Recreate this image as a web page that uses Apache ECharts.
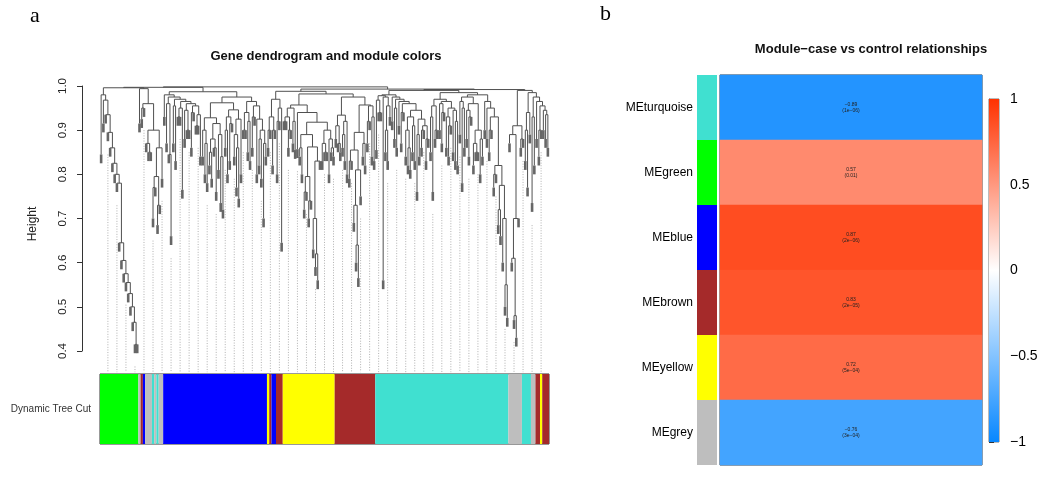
<!DOCTYPE html>
<html><head><meta charset="utf-8">
<script src="https://cdn.jsdelivr.net/npm/echarts/dist/echarts.min.js"></script>
<style>html,body{margin:0;padding:0;background:#fff}#c{width:1049px;height:480px}</style>
</head><body><div id="c"></div>
<script>
// ---------- Panel a: dendrogram (merge heights) ----------
// Notation: (h childA childB) = merge at height h; number = collapsed leaf tip height; * = leaf hanging right under its merge
const treeA = "(0.98 0.845 (0.968 0.915 (0.935 * (0.895 * (0.86 * (0.825 * (0.80 * (0.78 * (0.645 * (0.605 * (0.575 * (0.555 * (0.53 * (0.50 * (0.465 * (0.415 * *))))))))))))))))";
const treeB = "(0.994 0.915 (0.96 (0.95 0.925 *) (0.90 (0.87 * (0.85 * *)) (0.86 (0.795 (0.77 0.70 *) (0.73 0.685 *)) 0.79))))";
const treeC_S1 = "(0.96 0.87 (0.845 * 0.66))";
const treeC_S2 = "(0.955 0.87 0.83)";
const treeC_S3 = "(0.95 (0.93 * *) 0.765)";
const treeC_S4 = "(0.945 0.88 (0.9 * *))";
const treeC_S5 = "(0.94 0.86 *)";
const treeC_S6 = "(0.935 (0.91 * *) 0.84)";
const treeC_big = "(0.962 (0.928 (0.90 0.84 (0.87 0.80 0.78)) (0.915 (0.88 (0.85 0.82 0.79) (0.86 * 0.76)) (0.89 0.81 (0.84 0.735 0.72)))) (0.946 (0.93 (0.90 0.86 0.80) (0.915 0.83 *)) (0.925 (0.89 0.84 (0.86 0.77 0.745)) 0.80)))";
const treeC_right = "(0.965 (0.94 (0.9 * *) (0.92 0.85 0.83)) (0.955 (0.93 0.86 *) (0.925 0.80 (0.9 (0.88 0.82 0.79) (0.87 0.70 0.84)))))";
const treeM = "(0.97 (0.93 (0.9 0.86 *) (0.9 0.82 *)) (0.95 (0.92 0.80 *) 0.645))";
const treeY1 = "(0.95 (0.93 (0.92 * *) (0.9 0.86 *)) (0.92 0.87 0.855))";
const treeY4 = "(0.89 (0.86 0.84 0.80) (0.862 (0.795 (0.76 0.72 *) (0.74 0.70 *)) (0.83 (0.70 0.63 (0.62 0.59 0.56)) *)))";
const treeY5 = "(0.90 (0.87 0.83 (0.85 * *)) (0.88 0.80 (0.86 0.85 0.84)))";
const treeBr1 = "(0.934 (0.91 0.88 (0.87 * 0.85)) (0.92 (0.89 0.86 0.83) 0.80))";
const treeBr3 = "(0.895 (0.855 (0.83 0.79 *) (0.81 (0.73 0.69 (0.64 0.60 0.565)) 0.75)) (0.87 0.84 0.82))";
const treeBr4 = "(0.955 (0.92 0.87 *) (0.93 0.84 0.83))";
const treeTL1 = "(0.978 (0.968 0.855 (0.94 * *)) (0.975 0.56 (0.955 (0.9 0.85 0.83) 0.93)))";
const treeTL3 = "(0.93 (0.90 0.84 (0.86 0.82 0.81)) (0.91 0.85 0.83))";
const treeTL4 = "(0.925 (0.89 0.76 0.84) (0.91 (0.9 0.86 *) (0.88 0.83 *)))";
const treeTR1 = "(0.97 (0.955 (0.93 0.85 0.76) (0.9 0.88 *)) (0.965 (0.96 0.90 (0.94 0.87 *)) (0.95 (0.93 0.86 (0.91 0.84 *)) (0.945 0.85 (0.92 0.83 0.82)))))";
const treeTR3 = "(0.975 (0.965 0.89 (0.95 0.78 0.86)) (0.96 (0.945 0.88 (0.93 0.84 *)) (0.9 (0.87 0.82 (0.85 * *)) (0.88 0.80 0.84))))";
const treeTR4 = "(0.965 0.9 (0.95 0.88 (0.93 (0.9 0.85 *) (0.82 (0.8 0.77 *) (0.775 (0.72 0.685 0.66) (0.70 0.6 (0.55 0.5 0.475)))))))";
const treeR1 = "(0.91 (0.89 0.87 (0.7 (0.61 0.6 (0.48 0.47 0.43)) *)) (0.88 0.86 *))";
const treeR2 = "(0.985 (0.94 (0.9 0.83 0.77) 0.89) (0.975 (0.93 0.735 0.82) (0.965 0.88 (0.955 (0.9 0.84 *) (0.945 0.90 (0.935 0.88 0.86))))))";

// module colour of each leaf, in dendrogram order (runs)
const moduleRuns = [['green',17],['grey',1],['brown',1],['blue',1],['grey',3],['turquoise',1],['grey',1],['turquoise',1],['grey',2],
  ['blue',46],['yellow',1],['brown',1],['blue',2],['brown',3],['yellow',23],['brown',18],['turquoise',59],
  ['grey',6],['turquoise',4],['grey',2],['brown',2],['yellow',1],['brown',3]];
const heightTicks = [0.4, 0.5, 0.6, 0.7, 0.8, 0.9, 1.0];

// ---------- Panel b: module-trait heatmap ----------
const modules = ['MEturquoise','MEgreen','MEblue','MEbrown','MEyellow','MEgrey'];
const moduleColorNames = ['turquoise','green','blue','brown','yellow','grey'];
const corValues = [-0.89, 0.57, 0.87, 0.83, 0.72, -0.76];
const pValues = ['1e-06','0.01','2e-06','2e-05','5e-04','3e-04'];
const colorbarTicks = [-1, -0.5, 0, 0.5, 1];

const rColors = {green:'#00FF00', blue:'#0000FF', brown:'#A52A2A', yellow:'#FFFF00', turquoise:'#40E0D0', grey:'#BEBEBE'};
const cbPalette = ['#0887FF', '#FFFFFF', '#FF3200'];
const FONT = 'Liberation Sans, Arial, sans-serif';

const treeC = `(0.987 (0.98 0.93 (0.975 ${treeC_S1} (0.97 ${treeC_S2} (0.965 ${treeC_S3} (0.96 ${treeC_S4} (0.955 ${treeC_S5} ${treeC_S6})))))) (0.975 ${treeC_big} ${treeC_right}))`;
const treeY = `(0.957 ${treeY1} (0.94 0.857 (0.918 ${treeY4} ${treeY5})))`;
const treeBr = `(0.975 ${treeBr1} (0.957 ${treeBr3} ${treeBr4}))`;
const treeT = `(0.99 (0.98 ${treeTL1} (0.975 0.92 (0.97 (0.95 0.88 0.86) (0.965 0.91 (0.96 (0.94 0.87 *) (0.945 ${treeTL3} ${treeTL4})))))) (0.985 ${treeTR1} (0.98 ${treeTR3} ${treeTR4})))`;
const treeR = `(0.99 ${treeR1} ${treeR2})`;
const treeAll = `(0.998 (0.997 (0.996 ${treeA} ${treeB}) ${treeC}) (0.993 (0.988 ${treeM} (0.982 ${treeY} ${treeBr})) (0.992 ${treeT} ${treeR})))`;

function parseTree(s){
  const tok = s.replace(/\(/g,' ( ').replace(/\)/g,' ) ').trim().split(/\s+/);
  let i = 0;
  function node(){
    const t = tok[i++];
    if (t === '('){ const h = parseFloat(tok[i++]); const ch = []; while (tok[i] !== ')') ch.push(node()); i++; return {h, ch}; }
    return {leaf:true, tip: t === '*' ? null : parseFloat(t)};
  }
  return node();
}
const hang = 0.02;
const segs = []; const leafBottom = []; let nLeaf = 0;
function lay(n, parentH){
  if (n.leaf){
    const x = ++nLeaf; const tip = n.tip == null ? parentH : n.tip;
    if (tip < parentH) segs.push([x, parentH, x, tip, 0]);
    segs.push([x, tip, x, tip - hang, 1]);
    leafBottom[x] = tip - hang;
    return x;
  }
  const xs = n.ch.map(c => lay(c, n.h));
  const x = (xs[0] + xs[xs.length-1]) / 2;
  segs.push([xs[0], n.h, xs[xs.length-1], n.h, 0]);
  if (parentH != null) segs.push([x, parentH, x, n.h, 0]);
  return x;
}
lay(parseTree(treeAll), null);
const guides = [];
for (let i = 4; i <= nLeaf; i += 4) guides.push([i, leafBottom[i] - 0.03, i, 0.352, 2]);
segs.sort((a,b) => a[4] - b[4]);

let acc = 0; const barData = moduleRuns.map(r => { const d = [acc, acc + r[1], r[0]]; acc += r[1]; return d; });

function segRender(params, api){
  const p1 = api.coord([api.value(0), api.value(1)]), p2 = api.coord([api.value(2), api.value(3)]);
  const k = api.value(4);
  const style = k === 2 ? {stroke:'#b0b0b0', lineWidth:1, lineDash:[1,1.6]} :
               k === 1 ? {stroke:'#666', lineWidth:2.6} : {stroke:'#505050', lineWidth:1};
  return {type:'line', shape:{x1:p1[0], y1:p1[1], x2:p2[0], y2:p2[1]}, style};
}

const chart = echarts.init(document.getElementById('c'), null, {renderer:'canvas'});
chart.setOption({
  animation:false,
  grid:[
    {left:100, top:86, width:449, height:265},
    {left:100, top:374, width:449, height:70, show:true, borderColor:'#333', borderWidth:1},
    {left:697, top:75, width:20, height:390},
    {left:720, top:75, width:262, height:390, show:true, borderColor:'#3a3a3a', borderWidth:1},
    {left:989, top:99, width:10, height:343, show:true, borderColor:'#777', borderWidth:1}
  ],
  xAxis:[
    {gridIndex:0, type:'value', min:0.5, max:nLeaf+0.5, show:false},
    {gridIndex:1, type:'value', min:0, max:acc, show:false},
    {gridIndex:2, type:'category', data:[''], show:false},
    {gridIndex:3, type:'category', data:[''], show:false},
    {gridIndex:4, type:'value', min:0, max:1, show:false}
  ],
  yAxis:[
    {gridIndex:0, type:'value', min:0.4, max:1.0, interval:0.1, offset:18,
      axisLine:{show:true, lineStyle:{color:'#333'}}, axisTick:{show:true, length:5, lineStyle:{color:'#333'}},
      splitLine:{show:false},
      axisLabel:{rotate:90, fontSize:11.5, color:'#222', fontFamily:FONT, margin:13, formatter:v => heightTicks.includes(+v.toFixed(1)) ? v.toFixed(1) : ''}},
    {gridIndex:1, type:'value', min:0, max:1, show:false},
    {gridIndex:2, type:'category', data:modules, inverse:true, axisLine:{show:false}, axisTick:{show:false},
      axisLabel:{fontSize:12, color:'#000', fontFamily:FONT, margin:4}},
    {gridIndex:3, type:'category', data:modules, inverse:true, show:false},
    {gridIndex:4, type:'value', min:-1, max:1, interval:0.5, position:'right',
      axisLine:{show:true, lineStyle:{color:'#777'}}, axisTick:{show:true, length:5, lineStyle:{color:'#333'}}, splitLine:{show:false},
      axisLabel:{fontSize:14, color:'#000', fontFamily:FONT, margin:11,
        formatter:v => colorbarTicks.includes(v) ? (v < 0 ? '\u2212' : '') + Math.abs(v) : ''}}
  ],
  visualMap:{type:'continuous', min:-1, max:1, show:false, seriesIndex:3, dimension:2, inRange:{color:cbPalette}},
  series:[
    {type:'custom', xAxisIndex:0, yAxisIndex:0, clip:false, renderItem:segRender, data:guides.concat(segs), encode:{x:[0,2], y:[1,3]}, silent:true},
    {type:'custom', xAxisIndex:1, yAxisIndex:1, silent:true, data:barData, encode:{x:[0,1]},
      renderItem:(params, api) => { const a = api.coord([api.value(0), 1]), b = api.coord([api.value(1), 0]);
        return {type:'rect', shape:{x:a[0], y:a[1], width:b[0]-a[0], height:b[1]-a[1]}, style:{fill:rColors[barData[params.dataIndex][2]]}}; }},
    {type:'custom', xAxisIndex:2, yAxisIndex:2, silent:true, data:modules.map((m,i) => [0, i]),
      renderItem:(params, api) => { const c = api.coord([0, api.value(1)]), s = api.size([1,1]);
        return {type:'rect', shape:{x:c[0]-s[0]/2, y:c[1]-s[1]/2, width:s[0], height:s[1]}, style:{fill:rColors[moduleColorNames[params.dataIndex]]}}; }},
    {type:'heatmap', xAxisIndex:3, yAxisIndex:3, data:corValues.map((v,i) => [0, i, v]),
      label:{show:true, fontSize:5, lineHeight:6, color:'#222', fontFamily:FONT,
        formatter:p => (corValues[p.dataIndex] < 0 ? '\u2212' : '') + Math.abs(corValues[p.dataIndex]).toFixed(2) + '\n(' + pValues[p.dataIndex].replace('-', '\u2212') + ')'}},
    {type:'custom', xAxisIndex:4, yAxisIndex:4, silent:true, data:[[-1, 1]],
      renderItem:(params, api) => { const a = api.coord([0, api.value(0)]), b = api.coord([1, api.value(1)]);
        return {type:'rect', shape:{x:a[0], y:b[1], width:b[0]-a[0], height:a[1]-b[1]},
          style:{fill:new echarts.graphic.LinearGradient(0,1,0,0,[{offset:0,color:cbPalette[0]},{offset:0.5,color:cbPalette[1]},{offset:1,color:cbPalette[2]}])}}; }}
  ],
  graphic:[
    {type:'text', left:30, top:5, style:{text:'a', font:'22px "Liberation Serif", serif', fill:'#000'}},
    {type:'text', left:600, top:3, style:{text:'b', font:'22px "Liberation Serif", serif', fill:'#000'}},
    {type:'text', x:326, y:56, style:{text:'Gene dendrogram and module colors', font:'bold 13px ' + FONT, fill:'#111', align:'center', verticalAlign:'middle'}},
    {type:'text', x:871, y:49, style:{text:'Module\u2212case vs control relationships', font:'bold 13px ' + FONT, fill:'#111', align:'center', verticalAlign:'middle'}},
    {type:'text', x:33, y:224, rotation:Math.PI/2, style:{text:'Height', font:'12px ' + FONT, fill:'#222', align:'center', verticalAlign:'middle'}},
    {type:'text', x:91, y:409, style:{text:'Dynamic Tree Cut', font:'10px ' + FONT, fill:'#333', align:'right', verticalAlign:'middle'}}
  ]
});
</script></body></html>
